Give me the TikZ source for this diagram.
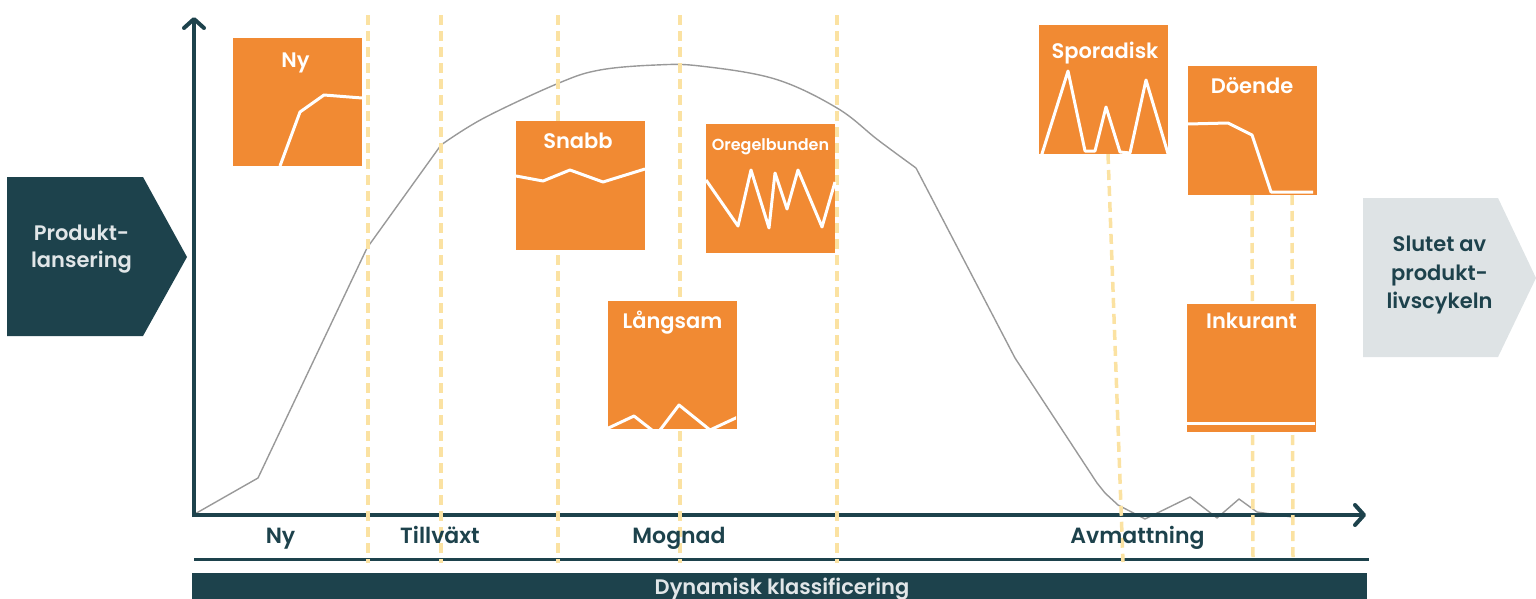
\documentclass[tikz,border=0pt]{standalone}
\usepackage{fontspec}
\newfontfamily\pop{Poppins SemiBold}
\usetikzlibrary{arrows.meta}
\definecolor{dteal}{HTML}{1D424C}
\definecolor{orng}{HTML}{F18A33}
\definecolor{dyel}{HTML}{FBE2A2}
\definecolor{lgrey}{HTML}{DEE3E5}
\definecolor{ctxt}{HTML}{E1E6E8}
\definecolor{cgrey}{HTML}{999999}
\begin{document}
\begin{tikzpicture}[x=1pt,y=-1pt,
  obox/.style={fill=orng, minimum width=129pt, minimum height=128pt, inner sep=0pt, outer sep=0pt},
  btitle/.style={text=white, anchor=base, inner sep=0pt, font=\pop\fontsize{21}{25}\selectfont},
  wline/.style={draw=white, line width=3pt, line join=round},
  guide/.style={draw=dyel, line width=3.5pt, dash pattern=on 10pt off 6pt},
  axisline/.style={draw=dteal, line width=4pt},
  stage/.style={text=dteal, anchor=base, inner sep=0pt, font=\pop\fontsize{22}{26}\selectfont},
  curve/.style={draw=cgrey, line width=1.4pt, line join=round},
  pent/.style={anchor=base, inner sep=0pt, font=\pop\fontsize{21}{26}\selectfont}
]
\useasboundingbox (0,0) rectangle (1536,599);

% side pentagons
\fill[dteal] (7,177) -- (143,177) -- (187,257) -- (143,336) -- (7,336) -- cycle;
\node[pent, text=ctxt] (pl1) at (81.5,240) {Produkt-};
\node[pent, text=ctxt] (pl2) at (81.5,267) {lansering};
\fill[lgrey] (1363,198) -- (1498,198) -- (1536,278) -- (1498,357) -- (1363,357) -- cycle;
\node[pent, text=dteal] (sl1) at (1439.5,251) {Slutet av};
\node[pent, text=dteal] (sl2) at (1439.5,280) {produkt-};
\node[pent, text=dteal] (sl3) at (1439.5,308) {livscykeln};

% curve
\draw[curve] (193,515) -- (258,478) -- (367,248) -- (441,145);
\draw[curve] plot[smooth, tension=0.6] coordinates {(441,145) (484,118) (559,83) (600,70) (656,65) (700,66) (775,79) (837,108) (878,140) (916,168)};
\draw[curve] (916,168) -- (1015,358) -- (1097,483) -- (1105,493) -- (1118,505) -- (1145,519) -- (1190,497) -- (1217,518) -- (1239,499) -- (1257,512) -- (1292,517);

% axes
\coordinate (ytip) at (194,17);
\coordinate (xtip) at (1366,515);
\draw[axisline, -{Straight Barb[length=9pt,width=20pt,round]}] (194,517) -- (ytip);
\draw[axisline, -{Straight Barb[length=9pt,width=20pt,round]}] (192,515) -- (xtip);
\coordinate (l1) at (194,559);
\coordinate (l2) at (1369,559);
\draw[draw=dteal, line width=3pt] (l1) -- (l2);

% guides
\foreach \gx in {368,441,558,680,837} {\draw[guide] (\gx,15) -- (\gx,563);}
\draw[guide] (1108,154) -- (1123,562);
\draw[guide] (1252,195) -- (1253,562);
\draw[guide] (1292,195) -- (1293,562);

% boxes
\node[obox] (ny) at (297.5,102) {};
\node[btitle] at (295.5,68) {Ny};
\draw[wline] (280,166) -- (300,112) -- (324,95) -- (362,98);

\node[obox] (snabb) at (580.5,185.5) {};
\node[btitle] at (578,148) {Snabb};
\draw[wline] (516,176) -- (543,181) -- (570,170) -- (603,182) -- (645,169);

\node[obox] (oreg) at (770.5,188.5) {};
\node[btitle, font=\pop\fontsize{16}{20}\selectfont] at (770.5,150) {Oregelbunden};
\draw[wline] (706,180) -- (738,226) -- (751,170) -- (769,228) -- (775,173) -- (787,209) -- (798,170) -- (822,227) -- (835,182);

\node[obox] (lang) at (672,364.5) {};
\node[btitle] at (672.5,328) {Långsam};
\begin{scope}
\clip (608,300) rectangle (736,429);
\draw[wline] (600,432) -- (634,416) -- (657,434) -- (679,405) -- (710,430) -- (740,416);
\end{scope}

\node[obox] (spor) at (1103.5,89.5) {};
\node[btitle] at (1105,59) {Sporadisk};
\begin{scope}
\clip (1039,25) rectangle (1168,154);
\draw[wline] (1041,157) -- (1068,71) -- (1085,151) -- (1095,151) -- (1106,107) -- (1120,152) -- (1130,153) -- (1146,80) -- (1169,157);
\end{scope}

\node[obox] (doe) at (1252.5,130.5) {};
\node[btitle] at (1252,94) {Döende};
\draw[wline] (1188,124) -- (1228,123) -- (1252,135) -- (1271,192) -- (1313,192);

\node[obox] (ink) at (1251,367.5) {};
\node[btitle] at (1251.5,328) {Inkurant};
\draw[wline] (1187,423) -- (1315,423);

% stage labels
\node[stage] (sNy) at (280.5,543) {Ny};
\node[stage] (sTv) at (440,543) {Tillväxt};
\node[stage] (sMo) at (679,543) {Mognad};
\node[stage] (sAv) at (1137.5,543) {Avmattning};

% bottom bar
\node[fill=dteal, minimum width=1175pt, minimum height=27pt, inner sep=0pt, outer sep=0pt] (bar) at (779.5,586.5) {};
\node[anchor=base, inner sep=0pt, text=ctxt, font=\pop\fontsize{21}{25}\selectfont] (barT) at (782,594) {Dynamisk klassificering};
\end{tikzpicture}
\end{document}
